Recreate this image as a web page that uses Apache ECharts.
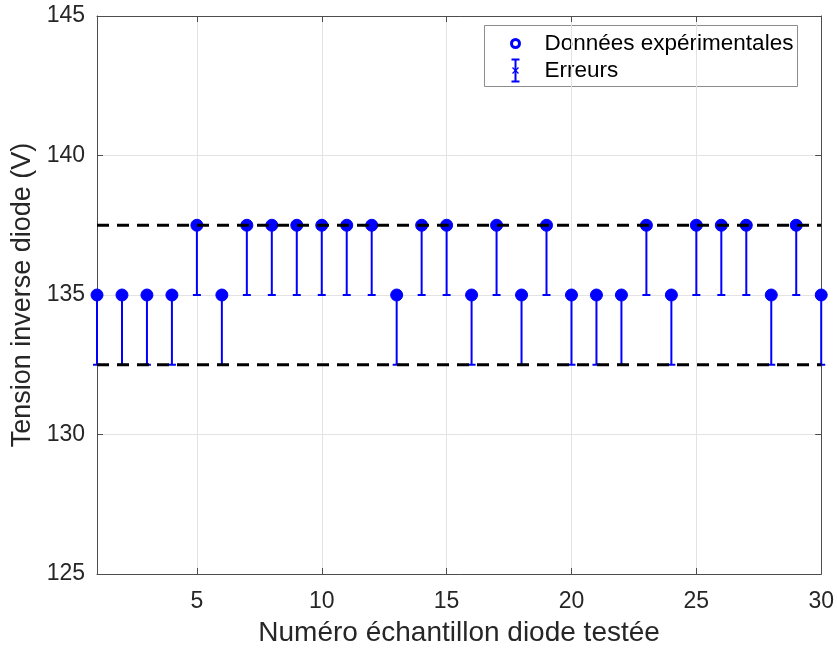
<!DOCTYPE html>
<html>
<head>
<meta charset="utf-8">
<title>Tension inverse diode</title>
<script src="https://cdn.jsdelivr.net/npm/echarts@6/dist/echarts.min.js"></script>
<style>
    html, body { margin: 0; padding: 0; background: #fff; }
    #chart { width: 837px; height: 652px; }
</style>
</head>
<body>
<div id="chart"></div>
<script>
// numéros des échantillons
var samples = [1, 2, 3, 4, 5, 6, 7, 8, 9, 10, 11, 12, 13, 14, 15,
    16, 17, 18, 19, 20, 21, 22, 23, 24, 25, 26, 27, 28, 29, 30];
// tension inverse mesurée (V)
var voltages = [135, 135, 135, 135, 137.5, 135, 137.5, 137.5, 137.5, 137.5, 137.5, 137.5, 135, 137.5, 137.5,
    135, 137.5, 135, 137.5, 135, 135, 135, 137.5, 135, 137.5, 137.5, 137.5, 135, 137.5, 135];
// erreurs basse / haute
var errLow = [2.5, 2.5, 2.5, 2.5, 2.5, 2.5, 2.5, 2.5, 2.5, 2.5, 2.5, 2.5, 2.5, 2.5, 2.5,
    2.5, 2.5, 2.5, 2.5, 2.5, 2.5, 2.5, 2.5, 2.5, 2.5, 2.5, 2.5, 2.5, 2.5, 2.5];
var errHigh = [0, 0, 0, 0, 0, 0, 0, 0, 0, 0, 0, 0, 0, 0, 0,
    0, 0, 0, 0, 0, 0, 0, 0, 0, 0, 0, 0, 0, 0, 0];
// limites (tirets noirs)
var limitHigh = 137.5;
var limitLow = 132.5;
var xRange = [1, 30];
var yRange = [125, 145];
var yStep = 5;

var FONT = '"Liberation Sans", Arial, Helvetica, sans-serif';
var BLUE = '#0000ff';
var AXIS = '#4d4d4d';
var TEXT = '#262626';

var chart = echarts.init(document.getElementById('chart'));

var pointData = samples.map(function(s, i) { return [s, voltages[i]]; });
var errData = samples.map(function(s, i) { return [s, voltages[i], errLow[i], errHigh[i]]; });

function renderError(params, api) {
    var x = api.value(0), y = api.value(1);
    var top = api.coord([x, y + api.value(3)]);
    var bot = api.coord([x, y - api.value(2)]);
    var hw = 4;
    var st = { stroke: BLUE, lineWidth: 2 };
    return {
        type: 'group',
        children: [
            { type: 'line', shape: { x1: top[0], y1: top[1], x2: bot[0], y2: bot[1] }, style: st },
            { type: 'line', shape: { x1: bot[0] - hw, y1: bot[1], x2: bot[0] + hw, y2: bot[1] }, style: st },
            { type: 'line', shape: { x1: top[0] - hw, y1: top[1], x2: top[0] + hw, y2: top[1] }, style: st }
        ]
    };
}

var tickLabel = { fontFamily: FONT, fontSize: 23, color: TEXT };

chart.setOption({
    animation: false,
    backgroundColor: '#fff',
    grid: { left: 97, right: 15, top: 16, bottom: 77 },
    xAxis: [{
        type: 'value',
        min: xRange[0],
        max: xRange[1],
        position: 'bottom',
        name: 'Numéro échantillon diode testée',
        nameLocation: 'middle',
        nameGap: 45,
        nameTextStyle: { fontFamily: FONT, fontSize: 28, color: TEXT },
        axisLine: { show: true, lineStyle: { color: AXIS, width: 1 } },
        axisTick: { show: true, inside: true, length: 6, lineStyle: { color: AXIS } },
        axisLabel: Object.assign({
            margin: 16,
            showMinLabel: false,
            formatter: function(v) { return v % 5 === 0 ? String(v) : ''; }
        }, tickLabel),
        splitLine: { show: true, lineStyle: { color: '#e3e3e3', width: 1 } }
    }, {
        type: 'value',
        min: xRange[0],
        max: xRange[1],
        position: 'top',
        axisLine: { show: true, lineStyle: { color: AXIS, width: 1 } },
        axisTick: { show: true, inside: true, length: 6, lineStyle: { color: AXIS } },
        axisLabel: { show: false },
        splitLine: { show: false }
    }],
    yAxis: [{
        type: 'value',
        min: yRange[0],
        max: yRange[1],
        interval: yStep,
        position: 'left',
        name: 'Tension inverse diode (V)',
        nameLocation: 'middle',
        nameGap: 58,
        nameTextStyle: { fontFamily: FONT, fontSize: 27, color: TEXT },
        axisLine: { show: true, lineStyle: { color: AXIS, width: 1 } },
        axisTick: { show: true, inside: true, length: 6, lineStyle: { color: AXIS } },
        axisLabel: Object.assign({ margin: 12 }, tickLabel),
        splitLine: { show: true, lineStyle: { color: '#e3e3e3', width: 1 } }
    }, {
        type: 'value',
        min: yRange[0],
        max: yRange[1],
        interval: yStep,
        position: 'right',
        axisLine: { show: true, lineStyle: { color: AXIS, width: 1 } },
        axisTick: { show: true, inside: true, length: 6, lineStyle: { color: AXIS } },
        axisLabel: { show: false },
        splitLine: { show: false }
    }],
    series: [{
        name: 'Erreurs',
        type: 'custom',
        renderItem: renderError,
        clip: false,
        z: 2,
        encode: { x: 0, y: 1 },
        data: errData
    }, {
        name: 'Données expérimentales',
        type: 'scatter',
        symbol: 'circle',
        symbolSize: 12,
        z: 3,
        itemStyle: { color: BLUE, borderColor: BLUE, borderWidth: 1, opacity: 1 },
        data: pointData
    }, {
        type: 'line',
        z: 4,
        symbol: 'none',
        silent: true,
        lineStyle: { color: '#000', width: 3, type: [12, 8] },
        data: [[xRange[0], limitHigh], [xRange[1], limitHigh]]
    }, {
        type: 'line',
        z: 4,
        symbol: 'none',
        silent: true,
        lineStyle: { color: '#000', width: 3, type: [12, 8] },
        data: [[xRange[0], limitLow], [xRange[1], limitLow]]
    }],
    graphic: [{
        type: 'group',
        left: 484,
        top: 25,
        z: 100,
        children: [
            { type: 'rect', shape: { x: 0, y: 0, width: 313, height: 61 },
              style: { fill: '#fff', stroke: '#8c8c8c', lineWidth: 1 } },
            { type: 'circle', shape: { cx: 31, cy: 18, r: 4 },
              style: { fill: '#fff', stroke: BLUE, lineWidth: 3 } },
            { type: 'line', shape: { x1: 31, y1: 34, x2: 31, y2: 56 }, style: { stroke: BLUE, lineWidth: 2 } },
            { type: 'line', shape: { x1: 27, y1: 34, x2: 35, y2: 34 }, style: { stroke: BLUE, lineWidth: 2 } },
            { type: 'line', shape: { x1: 27, y1: 56, x2: 35, y2: 56 }, style: { stroke: BLUE, lineWidth: 2 } },
            { type: 'line', shape: { x1: 28, y1: 42, x2: 34, y2: 48 }, style: { stroke: BLUE, lineWidth: 1.2 } },
            { type: 'line', shape: { x1: 34, y1: 42, x2: 28, y2: 48 }, style: { stroke: BLUE, lineWidth: 1.2 } },
            { type: 'text', x: 60, y: 18,
              style: { text: 'Données expérimentales', fontFamily: FONT, fontSize: 22.5, fill: '#000', verticalAlign: 'middle' } },
            { type: 'text', x: 60, y: 45,
              style: { text: 'Erreurs', fontFamily: FONT, fontSize: 22.5, fill: '#000', verticalAlign: 'middle' } }
        ]
    }]
});
</script>
</body>
</html>
